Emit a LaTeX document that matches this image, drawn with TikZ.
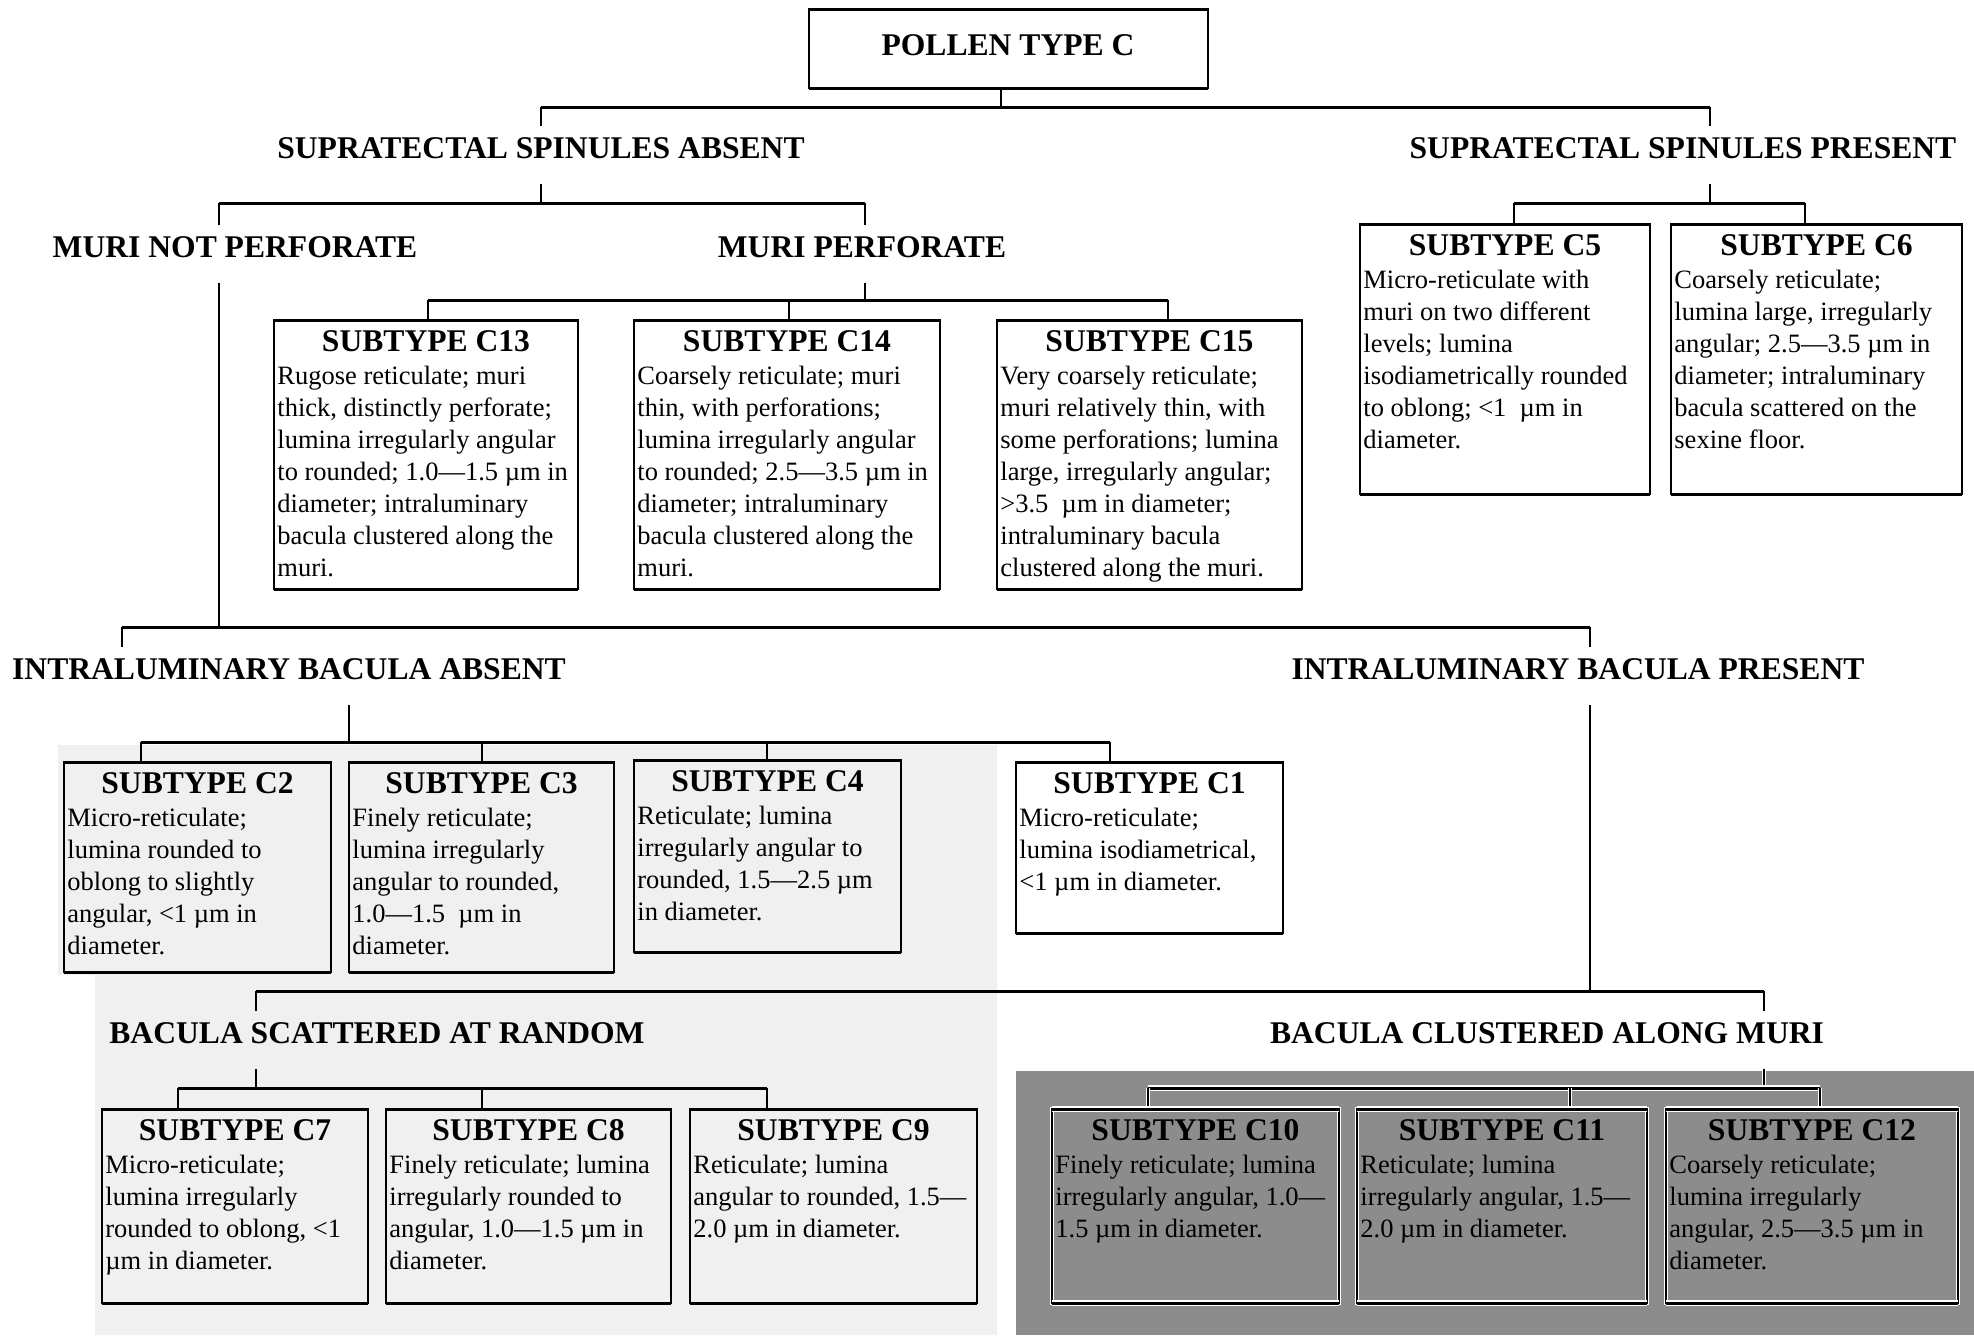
\documentclass[tikz,border=0pt]{standalone}
\usepackage{fontspec}
\setmainfont{Liberation Serif}
\usetikzlibrary{calc,fit}
\pgfdeclarelayer{bg}\pgfdeclarelayer{conn}
\pgfsetlayers{bg,conn,main}
\definecolor{lightbg}{gray}{0.94}
\definecolor{darkbg}{gray}{0.55}
\tikzset{
 vline/.style={line width=0.75pt},
 hbar/.style={line width=1.5pt},
 boxframe/.style={draw, line width=0.8pt, inner sep=0pt, outer sep=0pt},
 boxedge/.style={line width=1.5pt},
 halo/.style={preaction={draw=white, line width=2.4pt}},
 halothick/.style={preaction={draw=white, line width=3.2pt}},
 plainbox/.style={}, plainedge/.style={},
 darkbox/.style={halo}, darkedge/.style={halothick},
 headtext/.style={anchor=base, inner sep=0pt, text height=16pt, text depth=13pt, font=\bfseries\fontsize{15.8}{19}\selectfont},
 titletext/.style={anchor=base, inner sep=0pt, font=\bfseries\fontsize{15.8}{19}\selectfont},
 bodytext/.style={anchor=north west, inner sep=0pt, align=left, font=\fontsize{13.25}{16}\selectfont},
}
\newcommand{\subbox}[8]{%
 \coordinate (#2nw) at (#3,#4);
 \coordinate (#2se) at (#5,#6);
 \node[boxframe, fit=(#2nw)(#2se), #1box] (#2) {};
 \draw[boxedge, #1edge] (#2.north west) -- (#2.north east);
 \draw[boxedge, #1edge] (#2.south west) -- (#2.south east);
 \node[titletext] (#2t) at ($(#2.north)+(0,31)$) {#7};
 \node[bodytext] (#2b) at ($(#2.north west)+(3,42)$) {\strut #8};
}
\begin{document}
\begin{tikzpicture}[x=0.5pt,y=-0.5pt]
\useasboundingbox (0,0) rectangle (1974,1335);
\begin{pgfonlayer}{bg}
 \fill[white] (0,0) rectangle (1974,1335);
 \fill[lightbg] (58,745) -- (997,745) -- (997,1335) -- (95,1335) -- (95,975) -- (58,975) -- cycle;
 \fill[darkbg] (1016,1071) rectangle (1974,1335);
\end{pgfonlayer}

% top box
\coordinate (topnw) at (809,9); \coordinate (topse) at (1208,88);
\node[boxframe, fit=(topnw)(topse)] (top) {};
\draw[boxedge] (top.north west) -- (top.north east);
\draw[boxedge] (top.south west) -- (top.south east);
\node[titletext] (toptext) at (1008,55) {POLLEN TYPE C};

% headings
\node[headtext] (ssa) at (541,158) {SUPRATECTAL SPINULES ABSENT};
\node[headtext] (ssp) at (1683,158) {SUPRATECTAL SPINULES PRESENT};
\node[headtext] (mnp) at (235,257) {MURI NOT PERFORATE};
\node[headtext] (mp) at (862,257) {MURI PERFORATE};
\node[headtext] (iba) at (289,679) {INTRALUMINARY BACULA ABSENT};
\node[headtext] (ibp) at (1578,679) {INTRALUMINARY BACULA PRESENT};
\node[headtext] (bsr) at (377,1043) {BACULA SCATTERED AT RANDOM};
\node[headtext] (bcm) at (1547,1043) {BACULA CLUSTERED ALONG MURI};

% boxes
\subbox{plain}{c13}{274}{320}{578}{589}{SUBTYPE C13}{Rugose reticulate; muri\\thick, distinctly perforate;\\lumina irregularly angular\\to rounded; 1.0—1.5 µm in\\diameter; intraluminary\\bacula clustered along the\\muri.}
\subbox{plain}{c14}{634}{320}{940}{589}{SUBTYPE C14}{Coarsely reticulate; muri\\thin, with perforations;\\lumina irregularly angular\\to rounded; 2.5—3.5 µm in\\diameter; intraluminary\\bacula clustered along the\\muri.}
\subbox{plain}{c15}{997}{320}{1302}{589}{SUBTYPE C15}{Very coarsely reticulate;\\muri relatively thin, with\\some perforations; lumina\\large, irregularly angular;\\>3.5\ \ µm in diameter;\\intraluminary bacula\\clustered along the muri.}
\subbox{plain}{c5}{1360}{224}{1650}{494}{SUBTYPE C5}{Micro-reticulate with\\muri on two different\\levels; lumina\\isodiametrically rounded\\to oblong; <1\ \ µm in\\diameter.}
\subbox{plain}{c6}{1671}{224}{1962}{494}{SUBTYPE C6}{Coarsely reticulate;\\lumina large, irregularly\\angular; 2.5—3.5 µm in\\diameter; intraluminary\\bacula scattered on the\\sexine floor.}
\subbox{plain}{c2}{64}{762}{331}{972}{SUBTYPE C2}{Micro-reticulate;\\lumina rounded to\\oblong to slightly\\angular, <1 µm in\\diameter.}
\subbox{plain}{c3}{349}{762}{614}{972}{SUBTYPE C3}{Finely reticulate;\\lumina irregularly\\angular to rounded,\\1.0—1.5\ \ µm in\\diameter.}
\subbox{plain}{c4}{634}{760}{901}{952}{SUBTYPE C4}{Reticulate; lumina\\irregularly angular to\\rounded, 1.5—2.5 µm\\in diameter.}
\subbox{plain}{c1}{1016}{762}{1283}{933}{SUBTYPE C1}{Micro-reticulate;\\lumina isodiametrical,\\<1 µm in diameter.}
\subbox{plain}{c7}{102}{1109}{368}{1303}{SUBTYPE C7}{Micro-reticulate;\\lumina irregularly\\rounded to oblong, <1\\µm in diameter.}
\subbox{plain}{c8}{386}{1109}{671}{1303}{SUBTYPE C8}{Finely reticulate; lumina\\irregularly rounded to\\angular, 1.0—1.5 µm in\\diameter.}
\subbox{plain}{c9}{690}{1109}{977}{1303}{SUBTYPE C9}{Reticulate; lumina\\angular to rounded, 1.5—\\2.0 µm in diameter.}
\subbox{dark}{c10}{1052}{1109}{1339}{1303}{SUBTYPE C10}{Finely reticulate; lumina\\irregularly angular, 1.0—\\1.5 µm in diameter.}
\subbox{dark}{c11}{1357}{1109}{1647}{1303}{SUBTYPE C11}{Reticulate; lumina\\irregularly angular, 1.5—\\2.0 µm in diameter.}
\subbox{dark}{c12}{1666}{1109}{1958}{1303}{SUBTYPE C12}{Coarsely reticulate;\\lumina irregularly\\angular, 2.5—3.5 µm in\\diameter.}

\begin{pgfonlayer}{conn}
% bar 1
\coordinate (s1) at (1001,107); \coordinate (a1) at (541,107); \coordinate (b1) at (1710,107);
\draw[vline] (s1 |- top.south) -- (s1);
\draw[hbar] (a1) -- (b1);
\draw[vline] (a1) -- (a1 |- ssa.north);
\draw[vline] (b1) -- (b1 |- ssp.north);
% bar 2
\coordinate (s2) at (541,203); \coordinate (a2) at (219,203); \coordinate (b2) at (865,203);
\draw[vline] (s2 |- ssa.south) -- (s2);
\draw[hbar] (a2) -- (b2);
\draw[vline] (a2) -- (a2 |- mnp.north);
\draw[vline] (b2) -- (b2 |- mp.north);
% bar 3
\coordinate (s3) at (1710,203); \coordinate (a3) at (1514,203); \coordinate (b3) at (1805,203);
\draw[vline] (s3 |- ssp.south) -- (s3);
\draw[hbar] (a3) -- (b3);
\draw[vline] (a3) -- (a3 |- c5.north);
\draw[vline] (b3) -- (b3 |- c6.north);
% bar 4
\coordinate (s4) at (865,300); \coordinate (a4) at (428,300); \coordinate (m4) at (789,300); \coordinate (b4) at (1168,300);
\draw[vline] (s4 |- mp.south) -- (s4);
\draw[hbar] (a4) -- (b4);
\draw[vline] (a4) -- (a4 |- c13.north);
\draw[vline] (m4) -- (m4 |- c14.north);
\draw[vline] (b4) -- (b4 |- c15.north);
% bar 5
\coordinate (s5) at (219,627); \coordinate (a5) at (122,627); \coordinate (b5) at (1590,627);
\draw[vline] (s5 |- mnp.south) -- (s5);
\draw[hbar] (a5) -- (b5);
\draw[vline] (a5) -- (a5 |- iba.north);
\draw[vline] (b5) -- (b5 |- ibp.north);
% bar 6
\coordinate (s6) at (349,742); \coordinate (a6) at (141,742); \coordinate (m6) at (482,742); \coordinate (n6) at (767,742); \coordinate (b6) at (1110,742);
\draw[vline] (s6 |- iba.south) -- (s6);
\draw[hbar] (a6) -- (b6);
\draw[vline] (a6) -- (a6 |- c2.north);
\draw[vline] (m6) -- (m6 |- c3.north);
\draw[vline] (n6) -- (n6 |- c4.north);
\draw[vline] (b6) -- (b6 |- c1.north);
% bar 7
\coordinate (s7) at (1590,991); \coordinate (a7) at (256,991); \coordinate (b7) at (1764,991);
\draw[vline] (s7 |- ibp.south) -- (s7);
\draw[hbar] (a7) -- (b7);
\draw[vline] (a7) -- (a7 |- bsr.north);
\draw[vline] (b7) -- (b7 |- bcm.north);
% bar 8
\coordinate (s8) at (256,1088); \coordinate (a8) at (178,1088); \coordinate (m8) at (482,1088); \coordinate (b8) at (767,1088);
\draw[vline] (s8 |- bsr.south) -- (s8);
\draw[hbar] (a8) -- (b8);
\draw[vline] (a8) -- (a8 |- c7.north);
\draw[vline] (m8) -- (m8 |- c8.north);
\draw[vline] (b8) -- (b8 |- c9.north);
% bar 9 (dark area)
\coordinate (s9) at (1764,1088); \coordinate (a9) at (1148,1088); \coordinate (m9) at (1570,1088); \coordinate (b9) at (1820,1088);
\draw[vline, halo] (s9 |- bcm.south) -- (s9);
\draw[hbar, halothick] (a9) -- (b9);
\draw[vline, halo] (a9) -- (a9 |- c10.north);
\draw[vline, halo] (m9) -- (m9 |- c11.north);
\draw[vline, halo] (b9) -- (b9 |- c12.north);
\end{pgfonlayer}
\end{tikzpicture}
\end{document}
